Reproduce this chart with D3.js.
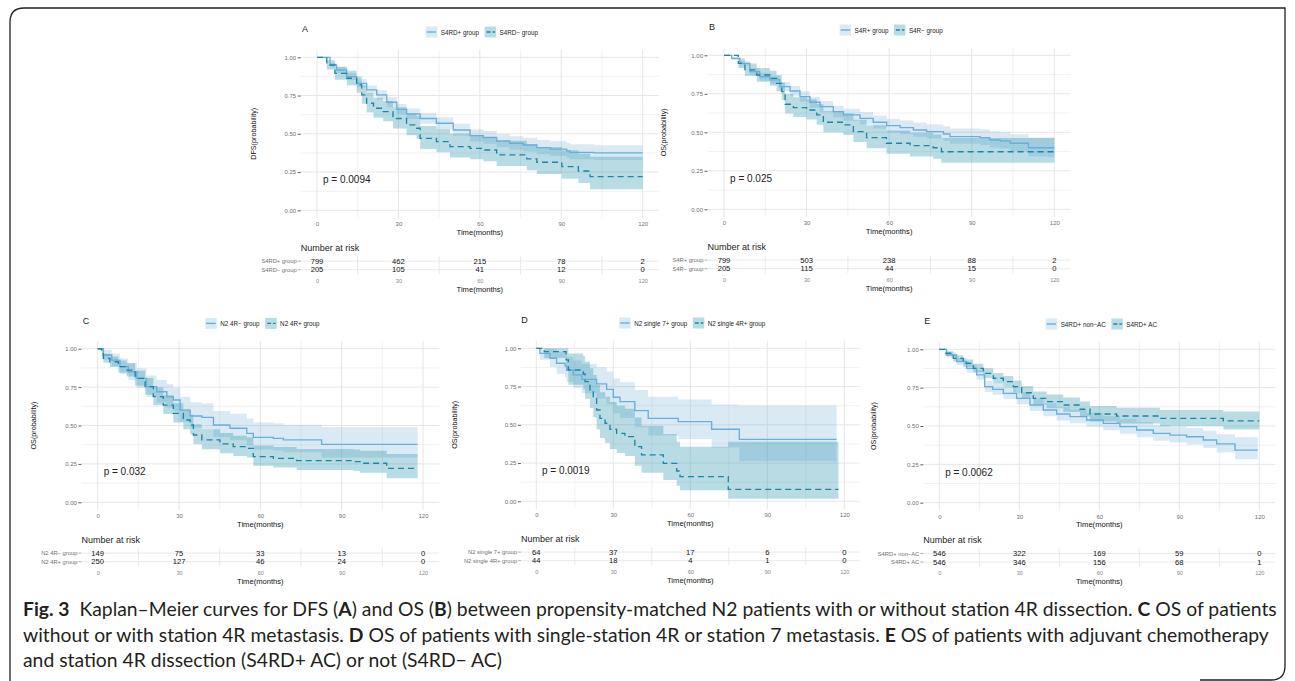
<!DOCTYPE html>
<html><head><meta charset="utf-8">
<script src="https://cdn.jsdelivr.net/npm/d3@7"></script>
<style>html,body{margin:0;padding:0;background:#fff;} svg{display:block;font-family:"Liberation Sans",Arial,sans-serif;}</style>
</head><body><svg id="c" width="1295" height="681"></svg>
<script>
// ---------- shared tick values ----------
const timeTicks = [0, 30, 60, 90, 120];
const timeMinor = [15, 45, 75, 105];
const survTicks = [0, 0.25, 0.5, 0.75, 1];
const survMinor = [0.125, 0.375, 0.625, 0.875];
const xTitle = "Time(months)";

// ---------- curves: [time, survival, lower CI, upper CI] ----------
const curveA1 = [[0,1,1,1],[4.8,0.95,0.935,0.965],[7.2,0.917,0.898,0.936],[10.9,0.874,0.851,0.897],[14.6,0.83,0.804,0.856],[18.3,0.787,0.759,0.816],[22,0.754,0.724,0.785],[25.7,0.706,0.674,0.739],[29.4,0.66,0.627,0.695],[33,0.63,0.596,0.666],[38,0.60,0.565,0.637],[44,0.569,0.532,0.607],[50.2,0.525,0.487,0.565],[56.4,0.488,0.449,0.530],[61.3,0.475,0.435,0.518],[66.2,0.453,0.412,0.497],[71,0.438,0.396,0.484],[76,0.427,0.384,0.474],[81,0.41,0.366,0.459],[86,0.40,0.355,0.451],[92,0.388,0.342,0.440],[93.2,0.379,0.333,0.431],[102,0.375,0.329,0.425],[120,0.375,0.329,0.425]];
const curveA2 = [[0,1,1,1],[3.6,0.95,0.921,0.98],[6.6,0.895,0.853,0.939],[11,0.863,0.817,0.912],[14.6,0.82,0.768,0.875],[16.5,0.754,0.697,0.816],[18.3,0.70,0.640,0.766],[20.8,0.667,0.605,0.735],[24.4,0.645,0.582,0.715],[28,0.60,0.535,0.673],[33,0.558,0.491,0.634],[36.7,0.536,0.468,0.614],[38,0.47,0.401,0.551],[44,0.449,0.379,0.531],[49,0.416,0.345,0.501],[56.4,0.405,0.333,0.492],[61.3,0.394,0.321,0.483],[66.2,0.362,0.289,0.454],[77.3,0.336,0.261,0.432],[81,0.314,0.238,0.413],[90.2,0.285,0.207,0.392],[96.3,0.257,0.178,0.370],[100.6,0.22,0.138,0.350],[120,0.22,0.138,0.350]];
const curveB1 = [[0,1,1,1],[2.8,0.98,0.97,0.99],[5.8,0.948,0.933,0.963],[9.4,0.894,0.873,0.916],[13,0.861,0.837,0.886],[16.7,0.84,0.814,0.867],[20.3,0.797,0.768,0.827],[24,0.768,0.737,0.800],[27.6,0.732,0.699,0.766],[31.2,0.695,0.661,0.731],[34.9,0.667,0.631,0.704],[39.7,0.634,0.597,0.673],[43.4,0.613,0.575,0.653],[49.4,0.59,0.551,0.632],[54.2,0.565,0.524,0.609],[59.1,0.543,0.501,0.588],[64,0.53,0.487,0.576],[68.8,0.515,0.471,0.563],[73.6,0.504,0.459,0.553],[79.7,0.489,0.443,0.540],[82.1,0.472,0.425,0.524],[93,0.465,0.417,0.518],[96.6,0.45,0.401,0.505],[100.3,0.444,0.394,0.500],[104,0.429,0.377,0.487],[110.6,0.40,0.343,0.466],[120,0.40,0.343,0.466]];
const curveB2 = [[0,1,1,1],[5.2,0.948,0.918,0.979],[7.6,0.905,0.866,0.946],[11.9,0.872,0.828,0.918],[16.7,0.85,0.803,0.900],[19.1,0.818,0.767,0.872],[21,0.764,0.709,0.824],[22.2,0.682,0.622,0.748],[25.2,0.66,0.599,0.727],[30,0.645,0.583,0.714],[33.7,0.613,0.549,0.684],[36.1,0.565,0.500,0.638],[43.4,0.548,0.482,0.623],[47,0.504,0.437,0.582],[51.8,0.465,0.397,0.545],[59,0.429,0.360,0.511],[67.6,0.413,0.343,0.497],[76,0.40,0.329,0.486],[79,0.374,0.302,0.463],[120,0.374,0.302,0.463]];
const curveC1 = [[0,1,1,1],[2.1,0.959,0.928,0.991],[5.2,0.926,0.885,0.969],[8.2,0.883,0.833,0.936],[11.3,0.85,0.795,0.909],[14.4,0.807,0.746,0.873],[18,0.753,0.686,0.826],[21.8,0.72,0.650,0.797],[25.5,0.688,0.616,0.768],[27.9,0.666,0.593,0.748],[30.4,0.60,0.524,0.687],[34.1,0.562,0.485,0.651],[38.4,0.553,0.476,0.643],[42.7,0.503,0.425,0.595],[48.8,0.482,0.404,0.576],[55,0.449,0.370,0.545],[57.4,0.423,0.344,0.520],[64.8,0.416,0.337,0.514],[68.5,0.406,0.326,0.505],[82.6,0.377,0.292,0.488],[118,0.377,0.292,0.488]];
const curveC2 = [[0,1,1,1],[1.5,0.97,0.95,0.99],[2.1,0.937,0.908,0.967],[4.5,0.915,0.881,0.950],[7.6,0.883,0.844,0.923],[10.7,0.861,0.819,0.905],[13.8,0.807,0.759,0.857],[17.5,0.753,0.701,0.809],[20.5,0.688,0.632,0.749],[24.2,0.633,0.575,0.697],[27.9,0.579,0.520,0.645],[31.6,0.536,0.476,0.604],[34.1,0.503,0.443,0.572],[35.3,0.438,0.378,0.508],[38.4,0.406,0.346,0.476],[45.1,0.38,0.320,0.451],[50,0.362,0.302,0.434],[55,0.351,0.291,0.424],[57.4,0.297,0.238,0.370],[64.8,0.286,0.227,0.360],[73.4,0.271,0.211,0.347],[94.3,0.265,0.204,0.343],[96.8,0.254,0.192,0.335],[106.6,0.221,0.156,0.314],[118,0.221,0.156,0.314]];
const curveD1 = [[0,1,1,1],[1.4,0.967,0.925,1],[5.3,0.935,0.877,0.997],[7.9,0.902,0.834,0.976],[11.2,0.885,0.812,0.965],[11.8,0.858,0.779,0.945],[14.4,0.826,0.740,0.921],[17.7,0.797,0.707,0.899],[23.5,0.767,0.672,0.876],[27.4,0.732,0.632,0.848],[30,0.68,0.576,0.803],[32.6,0.651,0.545,0.778],[38.4,0.593,0.484,0.727],[43.6,0.542,0.430,0.683],[55.3,0.521,0.408,0.666],[68.3,0.471,0.351,0.632],[79.1,0.405,0.262,0.626],[117,0.405,0.262,0.626]];
const curveD2 = [[0,1,1,1],[3.1,0.978,0.936,1],[11.6,0.924,0.851,1],[12.5,0.858,0.762,0.966],[18.3,0.832,0.730,0.948],[19,0.782,0.671,0.912],[20.9,0.728,0.609,0.870],[22.2,0.673,0.549,0.826],[23.5,0.597,0.469,0.761],[24.8,0.542,0.413,0.712],[26.8,0.51,0.381,0.683],[28.7,0.471,0.342,0.649],[31.3,0.444,0.316,0.624],[34.5,0.423,0.296,0.605],[38.4,0.357,0.233,0.547],[41,0.303,0.186,0.494],[49.5,0.248,0.140,0.440],[54.7,0.198,0.101,0.390],[56,0.161,0.072,0.357],[74.8,0.078,0.017,0.390],[117.7,0.078,0.017,0.390]];
const curveE1 = [[0,1,1,1],[2.75,0.963,0.947,0.979],[6.5,0.92,0.897,0.943],[10.25,0.876,0.849,0.904],[14,0.833,0.802,0.865],[17,0.757,0.722,0.794],[20,0.739,0.703,0.777],[24,0.713,0.676,0.752],[29,0.68,0.642,0.721],[34,0.637,0.597,0.680],[39,0.604,0.563,0.648],[44,0.578,0.536,0.623],[49,0.561,0.518,0.607],[55.25,0.539,0.495,0.586],[61.5,0.517,0.472,0.566],[67.75,0.496,0.450,0.547],[74,0.474,0.427,0.526],[80.25,0.452,0.404,0.506],[86.5,0.441,0.392,0.496],[92.75,0.43,0.380,0.487],[99,0.409,0.357,0.469],[104,0.383,0.328,0.447],[110.9,0.343,0.283,0.426],[119.4,0.343,0.283,0.426]];
const curveE2 = [[0,1,1,1],[2.1,0.974,0.961,0.987],[5.25,0.941,0.921,0.961],[9,0.909,0.885,0.934],[12.75,0.876,0.848,0.905],[16.5,0.843,0.812,0.876],[20.25,0.811,0.777,0.846],[24,0.789,0.753,0.826],[27.75,0.757,0.719,0.797],[30.9,0.717,0.677,0.760],[35.25,0.68,0.638,0.725],[40.25,0.659,0.615,0.706],[46.5,0.637,0.592,0.686],[52.75,0.609,0.562,0.660],[56.5,0.578,0.530,0.631],[66.5,0.565,0.516,0.619],[82.75,0.55,0.500,0.605],[106.5,0.533,0.478,0.594],[120,0.533,0.478,0.594]];

// ---------- group names, risk tables, p values ----------
const groupsA = ["S4RD+ group", "S4RD\u2212 group"];
const groupsB = ["S4R+ group", "S4R\u2212 group"];
const groupsC = ["N2 4R\u2212 group", "N2 4R+ group"];
const groupsD = ["N2 single 7+ group", "N2 single 4R+ group"];
const groupsE = ["S4RD+ non\u2212AC", "S4RD+ AC"];
const riskA = [[799, 462, 215, 78, 2], [205, 105, 41, 12, 0]];
const riskB = [[799, 503, 238, 88, 2], [205, 115, 44, 15, 0]];
const riskC = [[149, 75, 33, 13, 0], [250, 127, 46, 24, 0]];
const riskD = [[64, 37, 17, 6, 0], [44, 18, 4, 1, 0]];
const riskE = [[546, 322, 169, 59, 0], [546, 346, 156, 68, 1]];
const pValues = ["p = 0.0094", "p = 0.025", "p = 0.032", "p = 0.0019", "p = 0.0062"];
const yTitles = ["DFS(probability)", "OS(probability)", "OS(probability)", "OS(probability)", "OS(probability)"];
const panelKeys = ["A", "B", "C", "D", "E"];

// ---------- layout (pixel placement only) ----------
const layout = [
  {x0:317,   x120:642.7,  y1:57.3,  y0:210.3, ylabX:253},
  {x0:724,   x120:1054.3, y1:55.3,  y0:209.3, ylabX:663},
  {x0:97.7,  x120:423,    y1:348.7, y0:502.3, ylabX:33},
  {x0:536.3, x120:844.3,  y1:348.3, y0:501.3, ylabX:454},
  {x0:939.3, x120:1259.3, y1:349.3, y0:502.7, ylabX:873}
];
const curves = [[curveA1,curveA2],[curveB1,curveB2],[curveC1,curveC2],[curveD1,curveD2],[curveE1,curveE2]];
const groups = [groupsA, groupsB, groupsC, groupsD, groupsE];
const risks = [riskA, riskB, riskC, riskD, riskE];

const lineCol = ["#6aaedc", "#1b87a6"];
const fillCol = ["#6baed6", "#2e95b0"];
const fillOp = [0.26, 0.34];
const gridMajor = "#e6e6e6", gridMinor = "#eeeeee";
const tickCol = "#6f6f6f";

const svg = d3.select("#c");
svg.append("rect").attr("width",1295).attr("height",681).attr("fill","#fff");

layout.forEach((L, i) => {
  const x = d3.scaleLinear().domain([0,120]).range([L.x0, L.x120]);
  const y = d3.scaleLinear().domain([0,1]).range([L.y0, L.y1]);
  const xl = x(-6), xr = x(126), yt = y(1.05), yb = y(-0.05);
  const g = svg.append("g");

  // grid
  survMinor.forEach(v => g.append("line").attr("x1",xl).attr("x2",xr).attr("y1",y(v)).attr("y2",y(v)).attr("stroke",gridMinor).attr("stroke-width",0.8));
  timeMinor.forEach(v => g.append("line").attr("x1",x(v)).attr("x2",x(v)).attr("y1",yt).attr("y2",yb).attr("stroke",gridMinor).attr("stroke-width",0.8));
  survTicks.forEach(v => g.append("line").attr("x1",xl).attr("x2",xr).attr("y1",y(v)).attr("y2",y(v)).attr("stroke",gridMajor).attr("stroke-width",1));
  timeTicks.forEach(v => g.append("line").attr("x1",x(v)).attr("x2",x(v)).attr("y1",yt).attr("y2",yb).attr("stroke",gridMajor).attr("stroke-width",1));

  // axes
  const ya = g.append("g").attr("transform",`translate(${xl},0)`)
    .call(d3.axisLeft(y).tickValues(survTicks).tickFormat(d3.format(".2f")).tickSize(3).tickPadding(1.5));
  ya.select(".domain").remove();
  ya.selectAll("line").attr("stroke","#333").attr("stroke-width",0.8);
  ya.selectAll("text").attr("font-size",6).attr("fill",tickCol).attr("font-family","Liberation Sans, Arial, sans-serif");
  const xa = g.append("g").attr("transform",`translate(0,${yb})`)
    .call(d3.axisBottom(x).tickValues(timeTicks).tickFormat(d3.format("d")).tickSize(0).tickPadding(4));
  xa.select(".domain").remove();
  xa.selectAll("text").attr("font-size",6).attr("fill",tickCol).attr("font-family","Liberation Sans, Arial, sans-serif");

  g.append("text").attr("x",(L.x0+L.x120)/2).attr("y",L.y0+22).attr("text-anchor","middle").attr("dominant-baseline","central")
    .attr("font-size",7.6).attr("fill","#111").text(xTitle);
  g.append("text").attr("transform",`translate(${L.ylabX},${(yt+yb)/2}) rotate(-90)`).attr("text-anchor","middle").attr("dominant-baseline","central")
    .attr("font-size",7.2).attr("fill","#111").text(yTitles[i]);

  // bands & lines
  const area = d3.area().x(d=>x(d[0])).y0(d=>y(d[2])).y1(d=>y(d[3])).curve(d3.curveStepAfter);
  const line = d3.line().x(d=>x(d[0])).y(d=>y(d[1])).curve(d3.curveStepAfter);
  curves[i].forEach((c,k) => g.append("path").attr("d",area(c)).attr("fill",fillCol[k]).attr("fill-opacity",fillOp[k]));
  curves[i].forEach((c,k) => g.append("path").attr("d",line(c)).attr("fill","none").attr("stroke",lineCol[k]).attr("stroke-width",1.35)
      .attr("stroke-dasharray", k===1 ? "6,4" : null));

  // p value
  g.append("text").attr("x",x(2.2)).attr("y",y(0.2)).attr("dominant-baseline","central").attr("font-size",10).attr("fill","#222").text(pValues[i]);

  // panel letter
  g.append("text").attr("x",L.x0-15).attr("y",L.y1-28).attr("dominant-baseline","central").attr("font-size",9).attr("fill","#222").text(panelKeys[i]);

  // legend
  const lg = g.append("g");
  const ly = L.y1 - 25.3;
  let cx = 0;
  groups[i].forEach((name,k) => {
    const it = lg.append("g").attr("transform",`translate(${cx},0)`);
    it.append("rect").attr("x",0).attr("y",ly-5.5).attr("width",11.5).attr("height",11).attr("fill",fillCol[k]).attr("fill-opacity",fillOp[k]);
    it.append("line").attr("x1",1).attr("x2",10.5).attr("y1",ly).attr("y2",ly).attr("stroke",lineCol[k]).attr("stroke-width",1.4)
      .attr("stroke-dasharray", k===1 ? "4,2" : null).attr("stroke-dashoffset", k===1 ? -1 : 0);
    const t = it.append("text").attr("x",15).attr("y",ly).attr("dominant-baseline","central").attr("font-size",6.3).attr("fill","#222").text(name);
    cx += 15 + t.node().getComputedTextLength() + 5.5;
  });
  const lw = cx - 5.5;
  lg.attr("transform",`translate(${(xl+xr)/2 + 2 - lw/2},0)`);

  // risk table
  const tb = L.y0;
  g.append("text").attr("x",xl).attr("y",tb+37.5).attr("dominant-baseline","central").attr("font-size",9).attr("fill","#222").text("Number at risk");
  const rowY = [tb+50.8, tb+59.4];
  timeMinor.forEach(v => g.append("line").attr("x1",x(v)).attr("x2",x(v)).attr("y1",tb+46).attr("y2",tb+64).attr("stroke",gridMajor).attr("stroke-width",0.9));
  rowY.forEach((ry,k) => {
    g.append("line").attr("x1",xl).attr("x2",xr).attr("y1",ry).attr("y2",ry).attr("stroke",gridMajor).attr("stroke-width",0.9);
    g.append("line").attr("x1",xl-3).attr("x2",xl).attr("y1",ry).attr("y2",ry).attr("stroke","#888").attr("stroke-width",0.7);
    g.append("text").attr("x",xl-4).attr("y",ry).attr("text-anchor","end").attr("dominant-baseline","central").attr("font-size",5.8).attr("fill",tickCol).text(groups[i][k]);
    risks[i][k].forEach((n,j) => g.append("text").attr("x",x(timeTicks[j])).attr("y",ry).attr("text-anchor","middle").attr("dominant-baseline","central")
      .attr("font-size",7.6).attr("fill","#111").text(n));
  });
  const ta = g.append("g").attr("transform",`translate(0,${tb+67.8})`)
    .call(d3.axisBottom(x).tickValues(timeTicks).tickFormat(d3.format("d")).tickSize(0).tickPadding(1));
  ta.select(".domain").remove();
  ta.selectAll("text").attr("font-size",5.6).attr("fill","#888").attr("font-family","Liberation Sans, Arial, sans-serif");
  g.append("text").attr("x",(L.x0+L.x120)/2).attr("y",tb+79).attr("text-anchor","middle").attr("dominant-baseline","central")
    .attr("font-size",7.6).attr("fill","#111").text(xTitle);
});

// frame
svg.append("path").attr("d","M10,690 L10,22 Q10,8 24,8 L1285,8 L1285,666 Q1285,680 1271,680 L1200,680")
  .attr("fill","none").attr("stroke","#231f20").attr("stroke-width",1.3);

// caption
const capLines = [
  [["Fig. 3",true],["  Kaplan\u2013Meier curves for DFS (",false],["A",true],[") and OS (",false],["B",true],[") between propensity-matched N2 patients with or without station 4R dissection. ",false],["C",true],[" OS of patients",false]],
  [["without or with station 4R metastasis. ",false],["D",true],[" OS of patients with single-station 4R or station 7 metastasis. ",false],["E",true],[" OS of patients with adjuvant chemotherapy",false]],
  [["and station 4R dissection (S4RD+ AC) or not (S4RD\u2212 AC)",false]]
];
const capY = [608, 634, 659];
const capNodes = capLines.map((parts, li) => {
  const t = svg.append("text").attr("x",23).attr("y",capY[li]).attr("dominant-baseline","central")
    .attr("font-family","Lato, 'Open Sans', sans-serif").attr("font-size",17).attr("fill","#231f20").attr("xml:space","preserve").style("white-space","pre");
  parts.forEach(p => t.append("tspan").attr("font-weight",p[1]?"bold":"normal").text(p[0]));
  return t;
});
const w1 = capNodes[0].node().getComputedTextLength();
const fs = 17 * 1254 / w1;
capNodes.forEach(t => t.attr("font-size", fs));
</script>
</body></html>
